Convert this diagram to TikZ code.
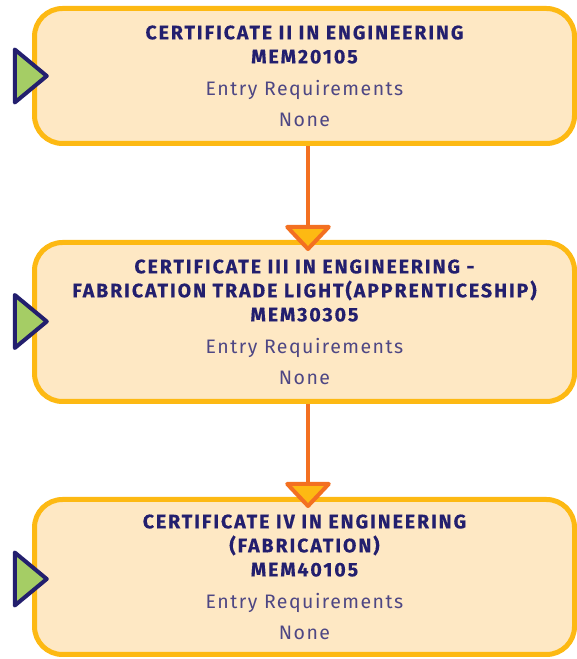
\documentclass[tikz,border=0pt]{standalone}
\usepackage{fontspec}
\setmainfont{Fira Sans}
\usetikzlibrary{shapes,arrows.meta,positioning}

\definecolor{certfill}{HTML}{FEE8C4}
\definecolor{certline}{HTML}{FDB913}
\definecolor{certnavy}{HTML}{231F6E}
\definecolor{certgrey}{HTML}{4E4784}
\definecolor{certorange}{HTML}{F37021}
\definecolor{certgreen}{HTML}{A5CD65}

\newcommand{\certhead}[1]{{\bfseries\color{certnavy}\addfontfeatures{LetterSpace=10,FakeBold=0.4}#1}}
\newcommand{\certentry}[1]{{\color{certgrey}\addfontfeatures{LetterSpace=7.5}#1}}

\tikzset{
    certbox/.style={draw=certline, fill=certfill, line width=5pt, rounded corners=28pt,
        minimum width=540pt, align=center, inner sep=0pt,
        font=\fontsize{19.5}{24}\selectfont},
    marker/.style={draw=certnavy, fill=certgreen, line width=4pt, line join=round,
        isosceles triangle, isosceles triangle stretches, inner sep=0pt,
        minimum height=32pt, minimum width=53pt, anchor=apex},
    flow/.style={draw=certorange, line width=4pt, shorten >=-11pt,
        -{Triangle[width=50pt,length=27pt,fill=certline,round]}}
}

\begin{document}
\begin{tikzpicture}[x=1pt,y=1pt]
    \useasboundingbox (0,0) rectangle (577,659);
    \node[certbox, minimum height=135pt] (cert2) at (304.5,583)
        {\certhead{CERTIFICATE II IN ENGINEERING}\\ \certhead{MEM20105}\\[8pt]
         \certentry{Entry Requirements}\\[7pt] \certentry{None}};
    \node[certbox, minimum height=159pt, below=94pt of cert2] (cert3)
        {\certhead{CERTIFICATE III IN ENGINEERING -}\\
         \certhead{FABRICATION TRADE LIGHT(APPRENTICESHIP)}\\ \certhead{MEM30305}\\[8pt]
         \certentry{Entry Requirements}\\[7pt] \certentry{None}};
    \node[certbox, minimum height=155pt, below=93pt of cert3] (cert4)
        {\certhead{CERTIFICATE IV IN ENGINEERING}\\ \certhead{(FABRICATION)}\\
         \certhead{MEM40105}\\[8pt]
         \certentry{Entry Requirements}\\[7pt] \certentry{None}};

    \node[marker] (mark2) at ([xshift=20pt]cert2.west) {};
    \node[marker] (mark3) at ([xshift=20pt,yshift=0.5pt]cert3.west) {};
    \node[marker] (mark4) at ([xshift=20pt,yshift=-2pt]cert4.west) {};

    \draw[flow] ([xshift=3.5pt]cert2.south) -- ([xshift=3.5pt]cert3.north);
    \draw[flow] ([xshift=3.5pt]cert3.south) -- ([xshift=3.5pt]cert4.north);
\end{tikzpicture}
\end{document}
